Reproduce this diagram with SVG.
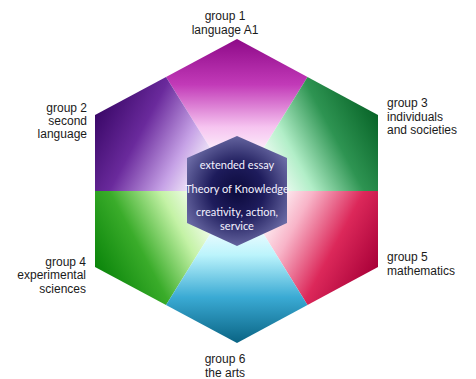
<svg xmlns="http://www.w3.org/2000/svg" width="476" height="379" viewBox="0 0 476 379">
<defs>
<linearGradient id="gr1" gradientUnits="userSpaceOnUse" x1="237" y1="39" x2="237" y2="191">
<stop offset="0" stop-color="#8e0a88"/><stop offset="0.3" stop-color="#c23ab8"/><stop offset="0.58" stop-color="#f6c4f0"/><stop offset="0.8" stop-color="#ffffff"/>
</linearGradient>
<linearGradient id="gr2" gradientUnits="userSpaceOnUse" x1="95" y1="115" x2="237" y2="191">
<stop offset="0" stop-color="#3a0868"/><stop offset="0.3" stop-color="#6a2a9c"/><stop offset="0.58" stop-color="#c6a2e6"/><stop offset="0.8" stop-color="#ffffff"/>
</linearGradient>
<linearGradient id="gr3" gradientUnits="userSpaceOnUse" x1="378" y1="115" x2="237" y2="191">
<stop offset="0" stop-color="#086428"/><stop offset="0.3" stop-color="#2e9452"/><stop offset="0.58" stop-color="#b2eec8"/><stop offset="0.8" stop-color="#ffffff"/>
</linearGradient>
<linearGradient id="gr4" gradientUnits="userSpaceOnUse" x1="95" y1="267" x2="237" y2="191">
<stop offset="0" stop-color="#0a840a"/><stop offset="0.3" stop-color="#3aac2a"/><stop offset="0.58" stop-color="#c4f2a6"/><stop offset="0.8" stop-color="#ffffff"/>
</linearGradient>
<linearGradient id="gr5" gradientUnits="userSpaceOnUse" x1="378" y1="267" x2="237" y2="191">
<stop offset="0" stop-color="#a80038"/><stop offset="0.3" stop-color="#dc285a"/><stop offset="0.58" stop-color="#f8b4c8"/><stop offset="0.8" stop-color="#ffffff"/>
</linearGradient>
<linearGradient id="gr6" gradientUnits="userSpaceOnUse" x1="237" y1="343" x2="237" y2="191">
<stop offset="0" stop-color="#0a6484"/><stop offset="0.3" stop-color="#3aaad4"/><stop offset="0.58" stop-color="#bcf4fc"/><stop offset="0.8" stop-color="#ffffff"/>
</linearGradient>
<radialGradient id="grc" cx="237" cy="191" r="60" gradientUnits="userSpaceOnUse">
<stop offset="0" stop-color="#0c0a3c"/><stop offset="0.45" stop-color="#1e1c5c"/><stop offset="1" stop-color="#7070aa"/>
</radialGradient>
</defs>
<style>
.lbl{font-family:"Liberation Sans",Arial,sans-serif;font-size:12px;fill:#1a1a1a}
.ctr{font-family:Lato,"Open Sans",sans-serif;font-size:11px;fill:#f4f2ff;text-anchor:middle}
</style>
<rect width="476" height="379" fill="#ffffff"/>
<g id="segments">
<polygon points="237,191 166,77 237,39 307.5,77" fill="url(#gr1)"/>
<polygon points="237,191 95,191 95,115 166,77" fill="url(#gr2)"/>
<polygon points="237,191 307.5,77 378,115 378,191" fill="url(#gr3)"/>
<polygon points="237,191 166,305 95,267 95,191" fill="url(#gr4)"/>
<polygon points="237,191 378,191 378,267 307.5,305" fill="url(#gr5)"/>
<polygon points="237,191 307.5,305 237,343 166,305" fill="url(#gr6)"/>
</g>
<g id="core">
<polygon points="237,136 287,158 287,223 237,246 187,223 187,158" fill="url(#grc)"/>
<text class="ctr" x="237" y="169">extended essay</text>
<text class="ctr" x="237" y="193">Theory of Knowledge</text>
<text class="ctr" x="237" y="216">creativity, action,</text>
<text class="ctr" x="237" y="230">service</text>
</g>
<g id="group1"><text class="lbl" x="225" y="20" text-anchor="middle">group 1</text><text class="lbl" x="225" y="34" text-anchor="middle">language A1</text></g>
<g id="group2"><text class="lbl" x="87" y="112" text-anchor="end">group 2</text><text class="lbl" x="87" y="125" text-anchor="end">second</text><text class="lbl" x="87" y="138" text-anchor="end">language</text></g>
<g id="group3"><text class="lbl" x="387" y="107">group 3</text><text class="lbl" x="387" y="121">individuals</text><text class="lbl" x="387" y="134">and societies</text></g>
<g id="group4"><text class="lbl" x="86" y="266" text-anchor="end">group 4</text><text class="lbl" x="86" y="279" text-anchor="end">experimental</text><text class="lbl" x="86" y="293" text-anchor="end">sciences</text></g>
<g id="group5"><text class="lbl" x="387" y="261">group 5</text><text class="lbl" x="387" y="275">mathematics</text></g>
<g id="group6"><text class="lbl" x="225" y="363" text-anchor="middle">group 6</text><text class="lbl" x="225" y="377" text-anchor="middle">the arts</text></g>
</svg>
